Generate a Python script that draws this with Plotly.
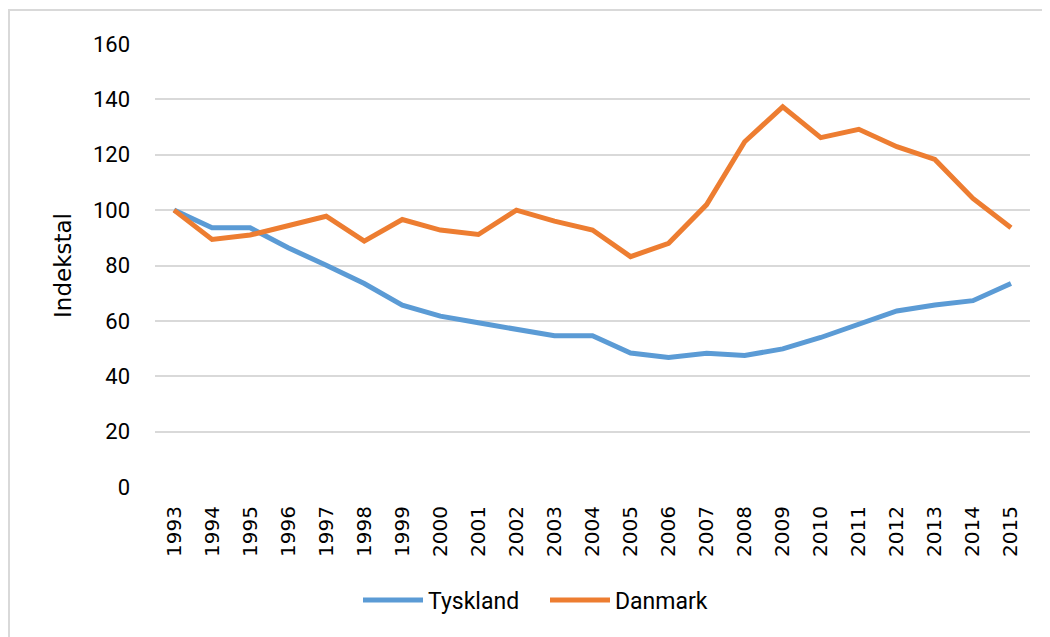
import plotly.graph_objects as go

years = [str(y) for y in range(1993, 2016)]
tyskland = [100, 93.6, 93.6, 86.4, 80.1, 73.5, 65.7, 61.7, 59.3, 57.0, 54.6, 54.6,
            48.4, 46.8, 48.3, 47.5, 49.9, 54.0, 58.7, 63.6, 65.7, 67.3, 73.5]
danmark = [100, 89.4, 91.0, 94.3, 97.8, 88.8, 96.6, 92.8, 91.2, 100.0, 96.0, 92.8,
           83.2, 88.0, 102.0, 124.7, 137.3, 126.2, 129.2, 122.9, 118.3, 104.2, 93.6]
y_ticks = [0, 20, 40, 60, 80, 100, 120, 140, 160]

# page body has an 8px margin, so the figure is drawn offset by (8, 8)
OFF = 8
W, H = 1050 - OFF, 637 - OFF
L, R, T, B = 155 - OFF, 20, 44 - OFF, 150
pw, ph = W - L - R, H - T - B

fig = go.Figure()
fig.add_trace(go.Scatter(x=years, y=tyskland, mode="lines", name="Tyskland",
                         line=dict(color="#5B9BD5", width=5)))
fig.add_trace(go.Scatter(x=years, y=danmark, mode="lines", name="Danmark",
                         line=dict(color="#ED7D31", width=5)))

def px_x(p):
    return (p - OFF - L) / pw

def px_y(p):
    return (H - B - (p - OFF)) / ph

fig.add_shape(type="rect", xref="paper", yref="paper",
              x0=px_x(9), x1=px_x(1070), y0=px_y(660), y1=px_y(10),
              line=dict(color="#d9d9d9", width=2), fillcolor="rgba(0,0,0,0)", layer="below")

fig.update_layout(
    width=W, height=H,
    margin=dict(l=L, r=R, t=T, b=B, pad=0, autoexpand=False),
    paper_bgcolor="white", plot_bgcolor="white",
    showlegend=True,
    legend=dict(orientation="h", x=px_x(545), xanchor="center", y=px_y(600), yanchor="middle",
                font=dict(family="Roboto", size=23, color="#000000"),
                itemwidth=60, tracegroupgap=0, entrywidth=112, entrywidthmode="pixels"),
    xaxis=dict(type="category", range=[-0.5, len(years) - 0.5], tickangle=-90,
               showgrid=False, zeroline=False, automargin=False,
               showline=False, ticks="", ticklabelstandoff=14,
               tickfont=dict(family="DejaVu Sans", size=20, color="#000000")),
    yaxis=dict(range=[0, 160], tickvals=y_ticks, showgrid=True, gridcolor="#d9d9d9",
               gridwidth=2, zeroline=False, showline=False, ticks="", automargin=False,
               ticklabelstandoff=24,
               tickfont=dict(family="Roboto", size=22, color="#000000"),
               title=dict(text="Indekstal", standoff=14,
                          font=dict(family="DejaVu Sans", size=23, color="#000000"))),
)

fig.write_html("out.html")
